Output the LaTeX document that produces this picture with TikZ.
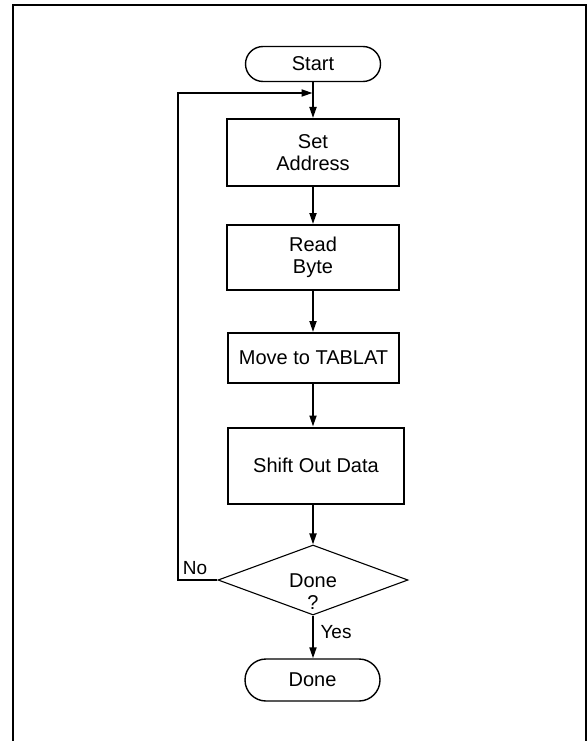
\documentclass[tikz,border=0pt]{standalone}
\usepackage{fontspec}
\setmainfont{Liberation Sans}
\usetikzlibrary{shapes.geometric,shapes.misc,arrows.meta}
\begin{document}
\begin{tikzpicture}[x=1pt,y=-1pt,
  every node/.style={font=\fontsize{20}{22}\selectfont, inner sep=0pt},
  term/.style={rounded rectangle, draw, line width=1.4pt, minimum width=135pt},
  proc/.style={rectangle, draw, line width=2pt, align=center},
  dec/.style={diamond, draw, line width=1.1pt, align=center, aspect=2.7, minimum width=190pt, minimum height=70pt},
  flow/.style={line width=1.8pt, -{Triangle[length=11pt,width=7pt]}},
  lbl/.style={font=\fontsize{19}{21}\selectfont}]
\useasboundingbox (0,0) rectangle (588,741);
\draw[line width=1.7pt] (13,741) -- (13,5) -- (586.3,5) -- (586.3,741);
\node[term, minimum height=35pt] (start) at (313,64) {Start};
\node[proc, minimum width=172pt, minimum height=67pt] (setaddr) at (313,152.5) {Set\\Address};
\node[proc, minimum width=172pt, minimum height=65pt] (read) at (313,257.5) {Read\\Byte};
\node[proc, minimum width=171pt, minimum height=50pt] (move) at (313.5,358) {Move to TABLAT};
\node[proc, minimum width=176pt, minimum height=76pt] (shift) at (316,465.5) {Shift Out Data};
\node[dec] (done) at (313,580) {};
\node[align=center] (donetxt) at (313,592) {Done\\?};
\node[term, minimum height=42pt] (fin) at (312.5,680) {Done};
\node[lbl] (no) at (195,568) {No};
\node[lbl] (yes) at (336,632) {Yes};
\coordinate (j) at (313,93);
\coordinate (fbtop) at (178,93);
\draw[flow] (start.south) -- (setaddr.north);
\draw[flow] (setaddr.south) -- (read.north);
\draw[flow] (read.south) -- (read.south |- move.north);
\draw[flow] (move.south -| start) -- (start |- shift.north);
\draw[flow] (done.north |- shift.south) -- (done.north);
\draw[flow] (done.south) -- (done.south |- fin.north);
\draw[flow] (done.west) -| (fbtop) -- ([xshift=-0.5pt]j);
\end{tikzpicture}
\end{document}
